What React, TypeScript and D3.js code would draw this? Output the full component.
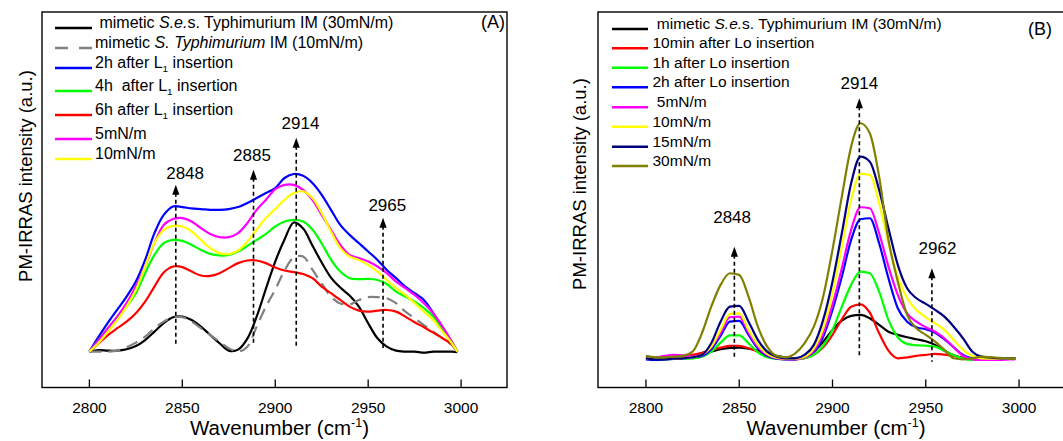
import React from 'react';
import * as d3 from 'd3';

const wavenumbers = [2800, 2805, 2810, 2815, 2820, 2825, 2830, 2835, 2840, 2845, 2850, 2855, 2860, 2865, 2870, 2875, 2880, 2885, 2890, 2895, 2900, 2905, 2910, 2915, 2920, 2925, 2930, 2935, 2940, 2945, 2950, 2955, 2960, 2965, 2970, 2975, 2980, 2985, 2990, 2995, 2998];
const xTicks = [2800, 2850, 2900, 2950, 3000];

// Panel A series
const aBlack = [0, 0.8, 0.5, 0.5, 1.2, 2.8, 5.8, 10, 14.2, 17.2, 17.5, 15.8, 12.5, 8.3, 4.2, 0.5, 1, 6.5, 17.5, 31.5, 45, 56, 64.5, 61.5, 53, 44.5, 37, 32, 28, 22.5, 14.2, 6.7, 2.5, 0.5, 0, 0, -0.5, 0, 0, 0, -0.3];
const aGray = [0, 0, 0, 0.5, 2.2, 4.5, 7.5, 11.7, 15, 17.2, 17.2, 15, 11.7, 8.3, 5, 1.7, 0, 2.5, 12.5, 22.5, 31, 40.5, 47, 47.5, 41, 34, 27.5, 24, 23.5, 25.8, 27.2, 27.2, 26.7, 24.2, 20, 16.7, 13.3, 10, 6.7, 3.3, 0];
const aBlue = [0, 7.5, 14.5, 21, 27.5, 35, 45.8, 59.2, 68.3, 72.5, 72.2, 71.5, 71.2, 70.8, 70.8, 71.2, 72.2, 74.2, 76.7, 79.2, 81.7, 86.7, 88.7, 87.8, 84.2, 78.3, 70.8, 63.3, 58.3, 54.2, 50, 45.8, 40.8, 36.7, 32.5, 29.2, 25.8, 19.2, 10.8, 4.2, 0];
const aGreen = [0, 5.8, 11.7, 17.5, 22.5, 29.2, 39.2, 48.3, 54.2, 55.8, 55.3, 53.3, 50.8, 48.8, 48, 48.3, 50, 52.8, 55.8, 58.8, 62.5, 65, 65.8, 65, 61, 54, 46, 40, 36.7, 36.2, 36.3, 35.8, 33.8, 30, 27.5, 25, 21.7, 17.5, 11.7, 5, 0];
const aRed = [0, 4.2, 8.3, 11.7, 15, 19.2, 25, 32.5, 39.5, 42.5, 42.2, 40, 38, 37.8, 39.2, 41.7, 44.2, 45.5, 45.5, 44.2, 42, 40.5, 39.7, 38.8, 36.7, 32.5, 29.2, 25.8, 22.5, 20.5, 20, 20.5, 20.8, 20, 17.5, 14.7, 12.2, 9.5, 6.7, 3.7, 0];
const aMagenta = [0, 5.8, 11.7, 17.5, 24.2, 32.5, 42.5, 54.2, 63.3, 66.2, 66.7, 65, 61.7, 58.8, 57.2, 57.2, 59.2, 64.2, 70.8, 75.8, 81.2, 83.3, 83.3, 80.8, 75.8, 68.3, 60.8, 53.3, 48.3, 46.7, 45, 42.5, 39.2, 35, 31.7, 28.3, 24.2, 19.2, 12.5, 5, 0];
const aYellow = [0, 4.5, 10, 15.8, 22.5, 30.8, 42.5, 54.2, 60.8, 62.8, 62.5, 60, 55.8, 51.7, 49.2, 48.7, 50.5, 55, 60.8, 66.7, 71.2, 75.8, 79.2, 80, 76.7, 69.2, 60, 51.7, 47.5, 45.8, 43.3, 40, 35.8, 31.7, 28.3, 24.2, 20, 15.8, 10, 4.2, 0];

// Panel B series
const bBlack = [0.8, 0, -0.3, -0.2, 0.2, 0.8, 2.2, 3.3, 4.5, 5.2, 5.3, 4.8, 3.8, 2.5, 1.2, 0.3, 0, 0.8, 3.3, 8.3, 14.2, 18.8, 21.2, 21.7, 20, 16.7, 13.3, 11.7, 10.5, 9.5, 8.5, 6.7, 3.8, 1.5, 0.2, 0, 0, 0, 0, 0, 0];
const bRed = [0, -0.3, -0.2, 0.2, 0.8, 1.7, 2.8, 4.2, 5.3, 6.2, 6.2, 5, 3.3, 1.7, 0.5, -0.2, -0.5, 0, 1.7, 5.5, 11.7, 19.5, 25.8, 27, 22.8, 12.5, 3.8, 0, 0.5, 1.2, 1.7, 2.2, 1.8, 1.2, 0.2, -0.3, -0.3, -0.3, -0.3, -0.3, -0.3];
const bGreen = [0, -0.5, -0.5, -0.3, -0.2, 0, 0.8, 3.3, 7.8, 11.5, 11.5, 7.5, 3, 0.5, -0.3, -0.5, -0.5, 0, 1.7, 6.2, 14.2, 25.8, 36.7, 43.3, 42.5, 33.3, 19.2, 10.5, 7.2, 6.5, 6.3, 5.8, 3.8, 1.5, -0.2, -0.8, -0.8, -0.5, -0.3, -0.3, -0.3];
const bBlue = [-0.5, -0.8, -0.5, -0.3, 0, 0.5, 1.2, 4.5, 11.2, 18.3, 18.7, 11.7, 5, 1.2, -0.2, -0.5, -0.5, 0.5, 3.3, 10.8, 24.2, 40.8, 59.2, 69.5, 70, 57.5, 40, 25, 18.3, 15.5, 14.5, 12.8, 9.5, 5.5, 1.7, 0, -0.2, -0.2, -0.2, -0.2, -0.2];
const bMagenta = [0, 0.3, 1.2, 1.7, 1.5, 0.8, 1.7, 5.5, 12.5, 20.5, 20.8, 12.8, 5.8, 1.7, 0, -0.5, -0.5, 0.5, 3.8, 12.5, 26.7, 45, 64.2, 75.5, 75, 62.5, 45.8, 31.7, 22.5, 18.3, 15.5, 13.3, 10, 5.5, 1.2, -0.5, -0.8, -0.8, -0.8, -0.5, -0.5];
const bYellow = [0, -0.2, -0.2, -0.2, 0, 0.5, 1.7, 5.8, 14.2, 22.2, 22.5, 14.2, 6.7, 2.2, 0.3, -0.2, -0.2, 0.8, 5, 15, 32.5, 55.8, 79.2, 92.2, 91.7, 77.5, 57.5, 40.8, 30, 24.2, 20.5, 17.5, 14.2, 9.2, 4.2, 1.2, 0, -0.2, -0.2, -0.2, -0.2];
const bNavy = [0, -0.5, -0.5, -0.2, 0, 0.5, 1.7, 7.5, 18.3, 25.8, 26.2, 18.3, 9.2, 3.3, 0.8, 0, 0, 1.7, 6.7, 19.2, 38.3, 62.5, 87.5, 100.8, 98.3, 84.2, 65, 46.7, 35, 30, 27.2, 24.2, 20.8, 15.8, 10, 3.3, 0.8, 0.3, 0, 0, 0];
const bOlive = [1.2, 0.5, 0.5, 0.8, 1.2, 3.3, 12.5, 25.8, 36.7, 42.5, 41.7, 30.8, 15.8, 5.8, 1.2, 0.5, 2.5, 7.5, 15.8, 30.8, 54.2, 80.8, 105.8, 117.5, 112.5, 90.8, 59.2, 38.3, 21.7, 15, 11.7, 8.3, 4.2, 0, -0.5, 0, 0.8, 0.5, 0.2, 0, 0];

type Seg = { t: string; i?: boolean; sub?: boolean };
type Series = { values: number[]; color: string; dash?: string; label: Seg[] };

const seriesA: Series[] = [
  { values: aBlack, color: '#000000', label: [{ t: ' mimetic ' }, { t: 'S.e.', i: true }, { t: 's. Typhimurium IM (30mN/m)' }] },
  { values: aGray, color: '#808080', dash: '12,7', label: [{ t: 'mimetic ' }, { t: 'S. Typhimurium', i: true }, { t: ' IM (10mN/m)' }] },
  { values: aBlue, color: '#0000ff', label: [{ t: '2h after L' }, { t: '1', sub: true }, { t: ' insertion' }] },
  { values: aGreen, color: '#00ff00', label: [{ t: '4h  after L' }, { t: '1', sub: true }, { t: ' insertion' }] },
  { values: aRed, color: '#ff0000', label: [{ t: '6h after L' }, { t: '1', sub: true }, { t: ' insertion' }] },
  { values: aMagenta, color: '#ff00ff', label: [{ t: '5mN/m' }] },
  { values: aYellow, color: '#ffff00', label: [{ t: '10mN/m' }] },
];
const seriesB: Series[] = [
  { values: bBlack, color: '#000000', label: [{ t: ' mimetic ' }, { t: 'S.e.', i: true }, { t: 's. Typhimurium IM (30mN/m)' }] },
  { values: bRed, color: '#ff0000', label: [{ t: '10min after Lo insertion' }] },
  { values: bGreen, color: '#00ff00', label: [{ t: '1h after Lo insertion' }] },
  { values: bBlue, color: '#0000ff', label: [{ t: '2h after Lo insertion' }] },
  { values: bMagenta, color: '#ff00ff', label: [{ t: ' 5mN/m' }] },
  { values: bYellow, color: '#ffff00', label: [{ t: '10mN/m' }] },
  { values: bNavy, color: '#000080', label: [{ t: '15mN/m' }] },
  { values: bOlive, color: '#808000', label: [{ t: '30mN/m' }] },
];

// peak markers: arrow position, arrow tip, arrow foot, label position, label height
const peaksA = [
  { label: '2848', pos: 2846.5, tip: 83.3, foot: 3.3, lpos: 2851.5, lv: 89.5 },
  { label: '2885', pos: 2888.3, tip: 90.8, foot: 3.3, lpos: 2887.5, lv: 98.3 },
  { label: '2914', pos: 2911.3, tip: 106.8, foot: 1.8, lpos: 2913.6, lv: 114.3 },
  { label: '2965', pos: 2958, tip: 66.8, foot: 1.8, lpos: 2960.3, lv: 73.3 },
];
const peaksB = [
  { label: '2848', pos: 2847.4, tip: 55.8, foot: 0, lpos: 2846.2, lv: 70.8 },
  { label: '2914', pos: 2914.4, tip: 130, foot: 0, lpos: 2914.4, lv: 137.5 },
  { label: '2962', pos: 2953.3, tip: 45, foot: -1.7, lpos: 2956.3, lv: 55 },
];

const FONT = '"Liberation Sans", Arial, Helvetica, sans-serif';

type PanelProps = {
  left: number; right: number; xDomain: [number, number]; yDomain: [number, number];
  series: Series[]; peaks: typeof peaksA; tag: string; tagX: number; tagY: number;
  legendY: number[]; legendTextX: number; legendLine: [number, number]; legendSize: number;
  curve: d3.CurveFactory; yLabelX: number; yLabelY: number;
};

function Panel(p: PanelProps) {
  const top = 12, bottom = 387.5;
  const x = d3.scaleLinear().domain(p.xDomain).range([p.left, p.right]);
  const y = d3.scaleLinear().domain(p.yDomain).range([bottom, top]);
  const line = d3.line<number>().x((_, i) => x(wavenumbers[i])).y((v) => y(v)).curve(p.curve);
  const midX = (p.left + p.right) / 2 + 5;
  return (
    <g>
      <rect x={p.left} y={top} width={p.right - p.left} height={bottom - top} fill="none" stroke="#000" strokeWidth={1.4} />
      {xTicks.map((t) => (
        <g key={t}>
          <line x1={x(t)} x2={x(t)} y1={bottom} y2={bottom - 8} stroke="#000" strokeWidth={1.3} />
          <text x={x(t)} y={413} textAnchor="middle" fontSize={15.5} fontFamily={FONT}>{t}</text>
        </g>
      ))}
      <text x={midX} y={435} textAnchor="middle" fontSize={20.5} fontFamily={FONT}>
        Wavenumber (cm<tspan fontSize={12.5} dy={-8}>-1</tspan><tspan dy={8}>)</tspan>
      </text>
      <text transform={`translate(${p.yLabelX},${p.yLabelY}) rotate(-90)`} textAnchor="middle" fontSize={18.5} fontFamily={FONT}>
        PM-IRRAS intensity (a.u.)
      </text>
      {p.series.map((s, k) => (
        <path key={k} d={line(s.values) || ''} fill="none" stroke={s.color} strokeWidth={2.2} strokeDasharray={s.dash} strokeLinejoin="round" />
      ))}
      {p.peaks.map((pk) => {
        const px = x(pk.pos);
        const ty = y(pk.tip);
        return (
          <g key={pk.label}>
            <line x1={px} x2={px} y1={ty + 8} y2={y(pk.foot)} stroke="#000" strokeWidth={1.6} strokeDasharray="4,3" />
            <path d={`M${px},${ty} L${px - 3.6},${ty + 10} L${px + 3.6},${ty + 10} Z`} fill="#000" />
            <text x={x(pk.lpos)} y={y(pk.lv)} dy="0.36em" textAnchor="middle" fontSize={17} fontFamily={FONT}>{pk.label}</text>
          </g>
        );
      })}
      {p.series.map((s, k) => (
        <g key={'l' + k}>
          <line x1={p.legendLine[0]} x2={p.legendLine[1]} y1={p.legendY[k]} y2={p.legendY[k]} stroke={s.color} strokeWidth={2.4} strokeDasharray={s.dash ? '13,11' : undefined} />
          <text x={p.legendTextX} y={p.legendY[k]} dy="0.36em" fontSize={p.legendSize} fontFamily={FONT} style={{ whiteSpace: 'pre' }}>
            {s.label.map((sg, j) => (
              sg.sub
                ? <tspan key={j} fontSize={p.legendSize * 0.62} dy={4}>{sg.t}</tspan>
                : <tspan key={j} fontStyle={sg.i ? 'italic' : 'normal'} dy={j > 0 && s.label[j - 1].sub ? -4 : 0}>{sg.t}</tspan>
            ))}
          </text>
        </g>
      ))}
      <text x={p.tagX} y={p.tagY} textAnchor="end" fontSize={18} fontFamily={FONT}>{p.tag}</text>
    </g>
  );
}

export default function App() {
  return (
    <svg width={1063} height={441} style={{ position: 'absolute', left: 0, top: 0, background: '#fff' }}>
      <rect x={0} y={0} width={1063} height={441} fill="#fff" />
      <Panel left={42} right={507} xDomain={[2774.5, 3024.7]} yDomain={[-17.9, 169.6]} series={seriesA} peaks={peaksA}
        tag="(A)" tagX={505} tagY={28} legendY={[28, 48, 68, 91, 115, 139, 159]} legendTextX={95} legendLine={[55, 92]} legendSize={16}
        curve={d3.curveCatmullRom.alpha(0.5)} yLabelX={32} yLabelY={176} />
      <Panel left={598} right={1064} xDomain={[2774.3, 3024.1]} yDomain={[-14.6, 173.1]} series={seriesB} peaks={peaksB}
        tag="(B)" tagX={1052} tagY={35} legendY={[29, 48.3, 67.7, 87.3, 107.3, 126.7, 146.7, 166]} legendTextX={652.5} legendLine={[612, 648]} legendSize={15.5}
        curve={d3.curveMonotoneX} yLabelX={586} yLabelY={184} />
    </svg>
  );
}
